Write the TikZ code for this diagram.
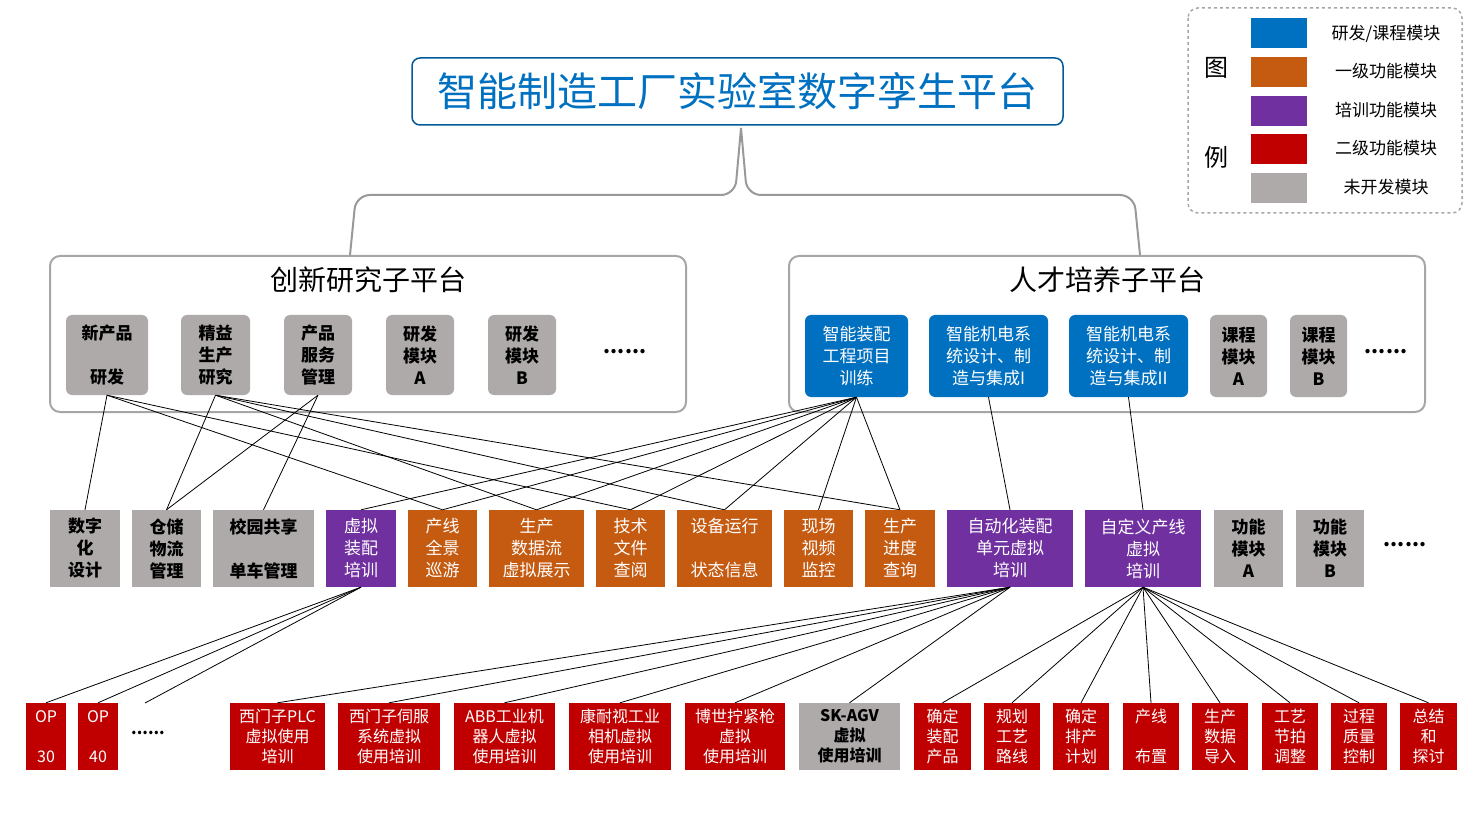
\documentclass[tikz,border=0pt]{standalone}
\usepackage{fontspec}
\setmainfont{Noto Sans CJK SC}
\definecolor{cblue}{HTML}{0070C0}
\definecolor{corange}{HTML}{C55A11}
\definecolor{cpurple}{HTML}{7030A0}
\definecolor{cred}{HTML}{C00000}
\definecolor{cgray}{HTML}{AEAAAA}
\newcommand\bx[7]{\pgfmathsetmacro\bw{#4-#2}\pgfmathsetmacro\bh{#5-#3}\node[#6,minimum width=\bw pt,minimum height=\bh pt] (#1) at ({(#2+#4)/2},{(#3+#5)/2}) {#7};}
\begin{document}
\begin{tikzpicture}[x=1pt,y=-1pt,
  base/.style={inner sep=0pt,align=center,font=\fontsize{17}{22}\selectfont},
  gr/.style={base,fill=cgray,rounded corners=6pt,text=black,font=\fontsize{17}{22}\selectfont\bfseries},
  bl/.style={base,fill=cblue,rounded corners=6pt,text=white},
  gs/.style={base,fill=cgray,text=black,font=\fontsize{17}{22}\selectfont\bfseries},
  og/.style={base,fill=corange,text=white},
  pu/.style={base,fill=cpurple,text=white},
  rd/.style={base,fill=cred,text=white,font=\fontsize{16}{20}\selectfont},
  rdg/.style={base,fill=cgray,text=black,font=\fontsize{16}{20}\selectfont\bfseries},
  ln/.style={black,line width=0.8pt},
  dots/.style={inner sep=0pt,font=\fontsize{20}{20}\selectfont\bfseries}]
\useasboundingbox (0,0) rectangle (1475,826);
% title
\node[draw=cblue!80!black,line width=1.5pt,rounded corners=8pt,minimum width=651pt,minimum height=67pt,text=cblue,font=\fontsize{40}{44}\selectfont] (title) at (737.5,91.5) {智能制造工厂实验室数字孪生平台};
% brace
\draw[gray!80,line width=2pt,rounded corners=14pt] (350,255) -- (356,195) -- (735,195) -- (741,128);
\draw[gray!80,line width=2pt,rounded corners=14pt] (1140,255) -- (1134,195) -- (747,195) -- (741,128);
% sub platforms
\node[draw=gray!70,line width=2pt,rounded corners=10pt,minimum width=636pt,minimum height=156pt] (lp) at (368,334) {};
\node[draw=gray!70,line width=2pt,rounded corners=10pt,minimum width=636pt,minimum height=156pt] (rp) at (1107,334) {};
\node[font=\fontsize{28}{30}\selectfont] (lpt) at (368,280) {创新研究子平台};
\node[font=\fontsize{28}{30}\selectfont] (rpt) at (1107,280) {人才培养子平台};
% legend
\draw[gray!70,line width=1.5pt,dashed,rounded corners=10pt] (1188,8) rectangle (1462,213);
\node[font=\fontsize{24}{24}\selectfont] (lg1) at (1216,68) {图};
\node[font=\fontsize{24}{24}\selectfont] (lg2) at (1216,157) {例};
\bx{s1}{1251}{18}{1307}{48}{base,fill=cblue}{}
\bx{s2}{1251}{57}{1307}{87}{base,fill=corange}{}
\bx{s3}{1251}{96}{1307}{126}{base,fill=cpurple}{}
\bx{s4}{1251}{134}{1307}{164}{base,fill=cred}{}
\bx{s5}{1251}{173}{1307}{203}{base,fill=cgray}{}
\node[base] (t1) at (1386,34) {研发/课程模块};
\node[base] (t2) at (1386,71) {一级功能模块};
\node[base] (t3) at (1386,110) {培训功能模块};
\node[base] (t4) at (1386,148) {二级功能模块};
\node[base] (t5) at (1386,187) {未开发模块};
% top row
\bx{a1}{66}{315}{148}{395}{gr}{新产品\\[22pt]研发}
\bx{a2}{181}{315}{250}{395}{gr}{精益\\生产\\研究}
\bx{a3}{284}{315}{352}{395}{gr}{产品\\服务\\管理}
\bx{a4}{386}{315}{454}{395}{gr}{研发\\模块\\A}
\bx{a5}{488}{315}{556}{395}{gr}{研发\\模块\\B}
\node[dots] (ad) at (625,352) {......};
\bx{b1}{805}{315}{908}{397}{bl}{智能装配\\工程项目\\训练}
\bx{b2}{929}{315}{1048}{397}{bl}{智能机电系\\统设计、制\\造与集成I}
\bx{b3}{1069}{315}{1188}{397}{bl}{智能机电系\\统设计、制\\造与集成II}
\bx{b4}{1210}{315}{1267}{397}{gr}{课程\\模块\\A}
\bx{b5}{1290}{315}{1347}{397}{gr}{课程\\模块\\B}
\node[dots] (bd) at (1386,352) {......};
% middle row
\bx{m1}{50}{510}{120}{587}{gs}{数字\\化\\设计}
\bx{m2}{132}{510}{201}{587}{gs}{仓储\\物流\\管理}
\bx{m3}{213}{510}{314}{587}{gs}{校园共享\\[22pt]单车管理}
\bx{m4}{326}{510}{396}{587}{pu}{虚拟\\装配\\培训}
\bx{m5}{408}{510}{477}{587}{og}{产线\\全景\\巡游}
\bx{m6}{489}{510}{584}{587}{og}{生产\\数据流\\虚拟展示}
\bx{m7}{596}{510}{665}{587}{og}{技术\\文件\\查阅}
\bx{m8}{677}{510}{772}{587}{og}{设备运行\\[22pt]状态信息}
\bx{m9}{784}{510}{853}{587}{og}{现场\\视频\\监控}
\bx{m10}{865}{510}{935}{587}{og}{生产\\进度\\查询}
\bx{m11}{947}{510}{1073}{587}{pu}{自动化装配\\单元虚拟\\培训}
\bx{m12}{1085}{510}{1201}{587}{pu}{自定义产线\\虚拟\\培训}
\bx{m13}{1214}{510}{1283}{587}{gs}{功能\\模块\\A}
\bx{m14}{1296}{510}{1364}{587}{gs}{功能\\模块\\B}
\node[dots] (md) at (1405,545) {......};
% bottom row
\bx{c1}{26}{703}{66}{770}{rd}{OP\\[20pt]30}
\bx{c2}{78}{703}{118}{770}{rd}{OP\\[20pt]40}
\node[dots,font=\fontsize{16}{16}\selectfont\bfseries] (cd) at (148,733) {......};
\coordinate (cdt) at (145,703);
\bx{c3}{230}{703}{325}{770}{rd}{西门子PLC\\虚拟使用\\培训}
\bx{c4}{338}{703}{440}{770}{rd}{西门子伺服\\系统虚拟\\使用培训}
\bx{c5}{454}{703}{555}{770}{rd}{ABB工业机\\器人虚拟\\使用培训}
\bx{c6}{569}{703}{671}{770}{rd}{康耐视工业\\相机虚拟\\使用培训}
\bx{c7}{685}{703}{785}{770}{rd}{博世拧紧枪\\虚拟\\使用培训}
\bx{c8}{799}{703}{900}{770}{rdg}{SK-AGV\\虚拟\\使用培训}
\bx{c9}{914}{703}{971}{770}{rd}{确定\\装配\\产品}
\bx{c10}{984}{703}{1040}{770}{rd}{规划\\工艺\\路线}
\bx{c11}{1053}{703}{1109}{770}{rd}{确定\\排产\\计划}
\bx{c12}{1123}{703}{1179}{770}{rd}{产线\\[20pt]布置}
\bx{c13}{1192}{703}{1248}{770}{rd}{生产\\数据\\导入}
\bx{c14}{1262}{703}{1318}{770}{rd}{工艺\\节拍\\调整}
\bx{c15}{1331}{703}{1387}{770}{rd}{过程\\质量\\控制}
\bx{c16}{1400}{703}{1457}{770}{rd}{总结\\和\\探讨}
% connectors top -> middle
\foreach \t in {m1,m5,m7} \draw[ln] (a1.south) -- (\t.north);
\foreach \t in {m2,m6,m8,m10} \draw[ln] (a2.south) -- (\t.north);
\foreach \t in {m2,m3} \draw[ln] (a3.south) -- (\t.north);
\foreach \t in {m4,m5,m6,m7,m8,m9,m10} \draw[ln] (b1.south) -- (\t.north);
\draw[ln] (b2.south) -- (m11.north);
\draw[ln] (b3.south) -- (m12.north);
% middle -> bottom
\foreach \t in {c1,c2} \draw[ln] (m4.south) -- (\t.north);
\draw[ln] (m4.south) -- (cdt);
\foreach \t in {c3,c4,c5,c6,c7,c8} \draw[ln] (m11.south) -- (\t.north);
\foreach \t in {c9,c10,c11,c12,c13,c14,c15,c16} \draw[ln] (m12.south) -- (\t.north);
\end{tikzpicture}
\end{document}
